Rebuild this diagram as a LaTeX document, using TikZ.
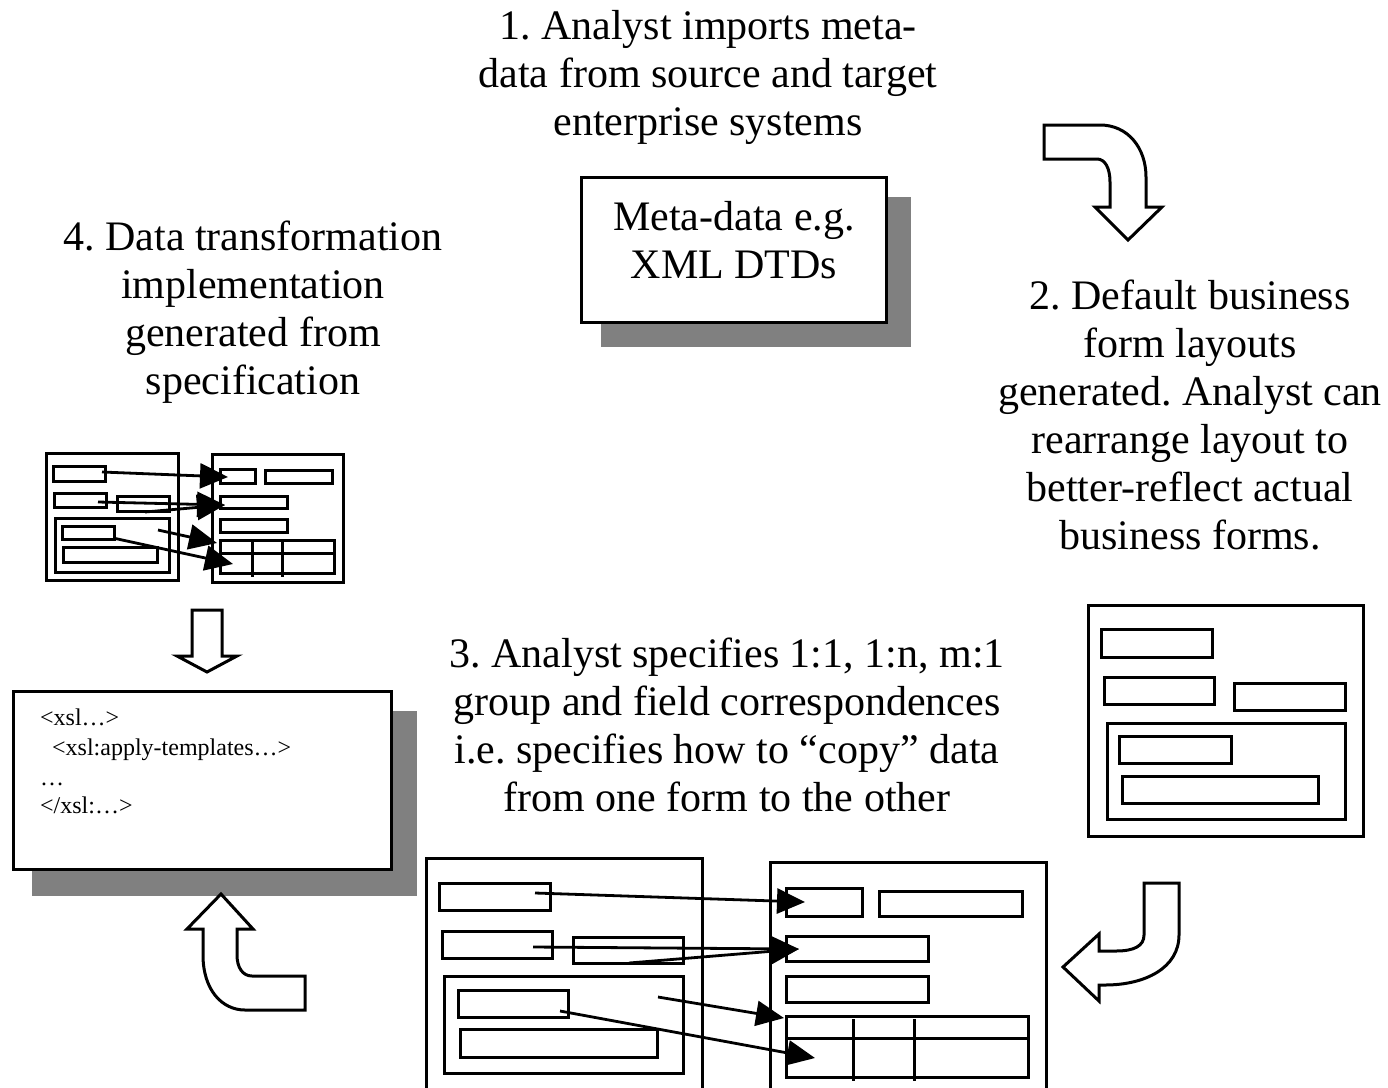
\documentclass[tikz,border=0pt]{standalone}
\usepackage{fontspec}
\setmainfont{Liberation Serif}
\usetikzlibrary{arrows.meta}
\frenchspacing
\begin{document}
\begin{tikzpicture}[x=1pt,y=-1pt,
  ln/.style={line width=3pt, line join=miter},
  fld/.style={ln, draw=black, fill=white},
  shadowbox/.style={fill=gray, draw=none},
  blockarrow/.style={line width=3pt, draw=black, fill=white, line join=miter},
  conn/.style={line width=2.8pt, -{Triangle[length=28pt,width=25pt]}},
  big/.style={font=\fontsize{42}{48}\selectfont\frenchspacing, anchor=base, inner sep=0pt},
  code/.style={font=\fontsize{24}{29}\selectfont, anchor=base west, inner sep=0pt}]
\useasboundingbox (0,0) rectangle (1388,1087);

% ---------- step texts ----------
\node[big] (t1) at (708,39) {\begin{tabular}[t]{@{}c@{}}1. Analyst imports meta-\\data from source and target\\enterprise systems\end{tabular}};
\node[big] (t4) at (253,250) {\begin{tabular}[t]{@{}c@{}}4. Data transformation\\implementation\\generated from\\specification\end{tabular}};
\node[big] (t2) at (1190,309) {\begin{tabular}[t]{@{}c@{}}2. Default business\\form layouts\\generated. Analyst can\\rearrange layout to\\better-reflect actual\\business forms.\end{tabular}};
\node[big] (t3) at (727,667) {\begin{tabular}[t]{@{}c@{}}3. Analyst specifies 1:1, 1:n, m:1\\group and field correspondences\\i.e. specifies how to “copy” data\\from one form to the other\end{tabular}};

% ---------- meta-data box ----------
\fill[shadowbox] (601,197) rectangle (911,347);
\draw[fld] (581,177) rectangle (886,322);
\node[big] (meta) at (734,230) {\begin{tabular}[t]{@{}c@{}}Meta-data e.g.\\XML DTDs\end{tabular}};

% ---------- xsl box ----------
\fill[shadowbox] (32,711) rectangle (417,896);
\draw[fld] (13,691) rectangle (391,869);
\node[code] (x1) at (40,725) {<xsl…>};
\node[code] (x2) at (52,755) {<xsl:apply-templates…>};
\node[code] (x3) at (40,785) {…};
\node[code] (x4) at (40,813) {</xsl:…>};

% ---------- step 2 form ----------
\draw[fld] (1088,605) rectangle (1363,836);
\draw[fld] (1101,629) rectangle (1212,657);
\draw[fld] (1104,677) rectangle (1214,704);
\draw[fld] (1234,683) rectangle (1345,710);
\draw[fld] (1107,723) rectangle (1345,819);
\draw[fld] (1119,736) rectangle (1231,763);
\draw[fld] (1122,776) rectangle (1318,803);

% ---------- small mapping (step 4) ----------
\draw[fld] (46,453) rectangle (178,580);
\draw[fld] (53,466) rectangle (105,481);
\draw[fld] (54,493) rectangle (106,507);
\draw[fld] (117,496) rectangle (169,511);
\draw[fld] (55,518) rectangle (169,572);
\draw[fld] (62,526) rectangle (114,539);
\draw[fld] (63,547) rectangle (157,562);
\draw[fld] (212,454) rectangle (343,582);
\draw[fld] (220,469) rectangle (255,483);
\draw[fld] (265,470) rectangle (332,483);
\draw[fld] (220,496) rectangle (287,508);
\draw[fld] (220,519) rectangle (287,532);
\draw[fld] (220,540) rectangle (334,573);
\draw[ln] (220,553) -- (334,553);
\draw[ln] (252,540) -- (252,577);
\draw[ln] (282,540) -- (282,577);
\coordinate (sa1) at (102,472); \coordinate (sb1) at (228,477);
\coordinate (sa2) at (98,502);  \coordinate (sb2) at (225,505);
\coordinate (sa3) at (145,512);
\coordinate (sa4) at (158,530); \coordinate (sb4) at (217,543);
\coordinate (sa5) at (113,538); \coordinate (sb5) at (233,564);
\draw[conn] (sa1) -- (sb1);
\draw[conn] (sa2) -- (sb2);
\draw[conn] (sa3) -- (sb2);
\draw[conn] (sa4) -- (sb4);
\draw[conn] (sa5) -- (sb5);

% ---------- big mapping (step 3) ----------
\draw[ln] (426,1090) -- (426,858) -- (702,858) -- (702,1090);
\draw[fld] (439,883) rectangle (550,910);
\draw[fld] (442,931) rectangle (552,958);
\draw[fld] (573,937) rectangle (683,963);
\draw[fld] (444,976) rectangle (683,1073);
\draw[fld] (458,990) rectangle (568,1017);
\draw[fld] (460,1029) rectangle (657,1057);
\draw[ln] (770,1090) -- (770,862) -- (1046,862) -- (1046,1090);
\draw[fld] (786,888) rectangle (862,916);
\draw[fld] (879,891) rectangle (1022,916);
\draw[fld] (786,936) rectangle (928,961);
\draw[fld] (786,976) rectangle (928,1002);
\draw[fld] (786,1016) rectangle (1028,1077);
\draw[ln] (786,1038) -- (1028,1038);
\draw[ln] (853,1019) -- (853,1081);
\draw[ln] (914,1019) -- (914,1081);
\coordinate (ba1) at (535,893); \coordinate (bb1) at (805,902);
\coordinate (ba2) at (533,947); \coordinate (bb2) at (799,949);
\coordinate (ba3) at (629,963);
\coordinate (ba4) at (658,997); \coordinate (bb4) at (784,1018);
\coordinate (ba5) at (560,1011); \coordinate (bb5) at (815,1058);
\draw[conn] (ba1) -- (bb1);
\draw[conn] (ba2) -- (bb2);
\draw[conn] (ba3) -- (bb2);
\draw[conn] (ba4) -- (bb4);
\draw[conn] (ba5) -- (bb5);

% ---------- block arrows ----------
% top right (1 -> 2)
\draw[blockarrow] (1044,125) -- (1100,125)
  .. controls (1128,125) and (1146,148) .. (1146,177)
  -- (1146,207) -- (1162,207) -- (1128,240) -- (1095,207) -- (1110,207)
  -- (1110,182) .. controls (1110,168) and (1105,159) .. (1097,159)
  -- (1044,159) -- cycle;
% bottom right (2 -> 3)
\draw[blockarrow] (1144,883) -- (1179,883) -- (1179,935)
  .. controls (1179,968) and (1145,985) .. (1105,985)
  -- (1099,985) -- (1099,1001) -- (1063,967) -- (1099,934) -- (1099,951)
  -- (1116,951) .. controls (1134,951) and (1144,946) .. (1144,935) -- cycle;
% bottom left (3 -> 4)
\draw[blockarrow] (305,976) -- (305,1010) -- (245,1010)
  .. controls (222,1010) and (203,990) .. (203,955)
  -- (203,929) -- (187,929) -- (221,894) -- (253,929) -- (237,929)
  -- (237,955) .. controls (237,968) and (243,976) .. (252,976) -- cycle;
% down arrow (mapping -> xsl)
\draw[blockarrow] (192,610) -- (222,610) -- (222,656) -- (237,656) -- (207,672)
  -- (177,656) -- (192,656) -- cycle;
\end{tikzpicture}
\end{document}
